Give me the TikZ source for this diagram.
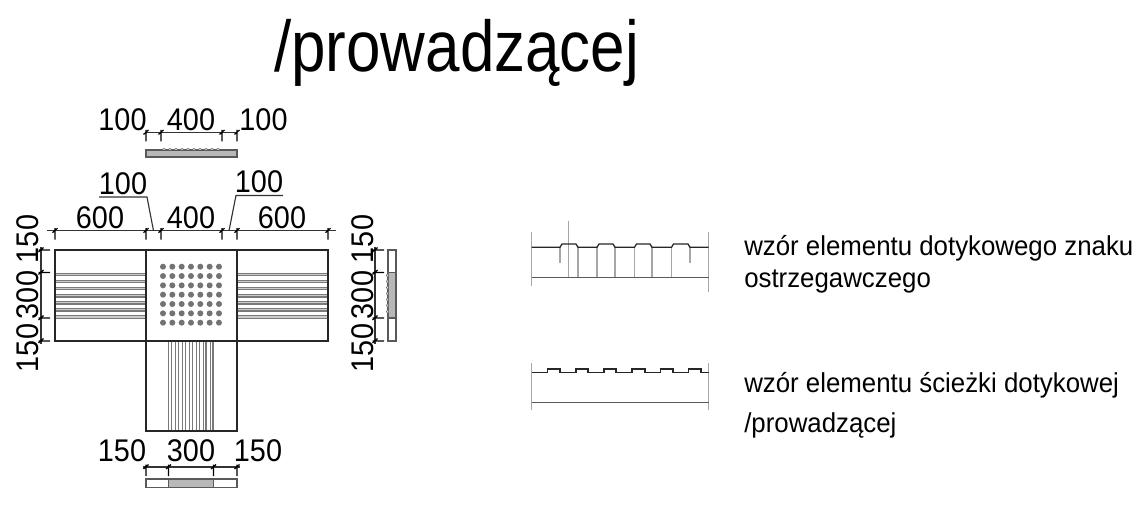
\documentclass[tikz,border=0pt]{standalone}
\usepackage{fontspec}
\setmainfont{Liberation Sans}
\newfontfamily\dimf[FakeStretch=0.92]{Liberation Sans}
\newfontfamily\capf[FakeStretch=0.945]{Liberation Sans}
\newfontfamily\titlef[FakeStretch=0.86]{Liberation Sans}
\newcommand{\fs}[1]{\fontsize{#1}{#1}\selectfont}
\definecolor{fillgray}{gray}{0.72}
\definecolor{dotgray}{gray}{0.45}
\definecolor{stripegray}{gray}{0.8}
\definecolor{stripedark}{gray}{0.48}
\definecolor{thingray}{gray}{0.65}
\definecolor{edgegray}{gray}{0.35}
\tikzset{x=0.75pt,y=-0.75pt,
 outlinepath/.style={draw=black!85,line width=0.95pt},
 edgepath/.style={draw=edgegray,line width=0.8pt},
 dimpath/.style={draw=black!80,line width=0.85pt},
 tickpath/.style={draw=black,line width=0.9pt},
 thinpath/.style={draw=thingray,line width=1pt},
 stripepath/.style={draw=stripegray,line width=2pt},
 stripecore/.style={draw=stripedark,line width=0.85pt},
 dimtext/.style={inner sep=0pt,anchor=base,font=\dimf\fs{23.5}},
 dimtextv/.style={inner sep=0pt,anchor=base,font=\dimf\fs{23.5},rotate=90},
 caption/.style={inner sep=0pt,anchor=base west,font=\capf\fs{20.5}}}
\newcommand{\tickh}[2]{\draw[tickpath] (#1,#2-2.5)--(#1,#2+9) (#1-2.5,#2+2)--(#1+2.5,#2-2.5);}
\newcommand{\tickv}[2]{\draw[tickpath] (#1-2.5,#2)--(#1+9,#2) (#1-2.5,#2+2)--(#1+2.5,#2-2.5);}
\begin{document}
\begin{tikzpicture}
\useasboundingbox (0,0) rectangle (1146,509);
\node[inner sep=0pt,anchor=base west,font=\titlef\fs{54}] (title) at (274,72) {/prowadzącej};
% top elevation
\fill[fillgray] (146,150) rectangle (237,157);
\draw[edgepath] (146,150) rectangle (237,157);
\foreach \x in {161,167,...,215}{\draw[draw=edgegray,line width=0.6pt,fill=white] (\x,150) .. controls (\x+2,148.2) and (\x+4,148.2) .. (\x+6,150);}
\draw[dimpath] (146,132.5)--(237,132.5);
\foreach \x in {146,161,222,237}{\tickh{\x}{132.5}}
\node[dimtext] (ta) at (122.5,131) {100};
\node[dimtext] (tb) at (191,131) {400};
\node[dimtext] (tc) at (263.5,131) {100};
% plan stripes
\foreach \k in {0,...,6}{
 \pgfmathsetmacro{\yy}{274.5+\k*7.05}
 \pgfmathsetmacro{\ya}{\yy-1.3}
 \pgfmathsetmacro{\yb}{\yy+1.3}
 \draw[stripepath] (55,\yy)--(146,\yy) (237,\yy)--(328,\yy);
 \draw[stripecore] (55,\ya)--(146,\ya) (237,\ya)--(328,\ya) (55,\yb)--(146,\yb) (237,\yb)--(328,\yb);
 \pgfmathsetmacro{\xx}{170+\k*6.95}
 \pgfmathsetmacro{\xa}{\xx-1.3}
 \pgfmathsetmacro{\xb}{\xx+1.3}
 \draw[stripecore] (\xa,341)--(\xa,431) (\xb,341)--(\xb,431);
}
\draw[outlinepath] (55,250) rectangle (328,341);
\draw[outlinepath] (146,250)--(146,431)--(237,431)--(237,250);
\foreach \i in {0,...,6}{\foreach \j in {0,...,6}{\fill[dotgray] (163+\i*9.33,266.7+\j*9.33) circle[radius=3];}}
% top dims
\draw[dimpath] (47,230.7)--(336,230.7);
\foreach \x in {55,146,161,222,237,328}{\tickh{\x}{230.7}}
\node[dimtext] (d1) at (100,228.5) {600};
\node[dimtext] (d2) at (191,228.5) {400};
\node[dimtext] (d3) at (282,228.5) {600};
\node[dimtext] (d4) at (123,195) {100};
\node[dimtext] (d5) at (259,193) {100};
\draw[dimpath] (99,197)--(147,197)--(153.5,230.7);
\draw[dimpath] (229,230.7)--(236,195.5)--(283,195.5);
% left dims
\draw[dimpath] (41,247)--(41,344);
\foreach \y in {250,272.5,318,341}{\tickv{41}{\y}}
\node[dimtextv] (l1) at (38.5,239) {150};
\node[dimtextv] (l2) at (38.5,295) {300};
\node[dimtextv] (l3) at (38.5,348) {150};
% right elevation
\fill[fillgray] (388,272.5) rectangle (396,318);
\draw[edgepath] (388,250) rectangle (396,341);
\draw[edgepath] (388,272.5)--(396,272.5) (388,318)--(396,318);
\foreach \y in {272.5,278.5,...,312.5}{\draw[draw=edgegray,line width=0.6pt,fill=white] (388,\y) .. controls (386.2,\y+2) and (386.2,\y+4) .. (388,\y+6);}
\draw[dimpath] (375,247)--(375,344);
\foreach \y in {250,272.5,318,341}{\tickv{375}{\y}}
\node[dimtextv] (r1) at (373,239) {150};
\node[dimtextv] (r2) at (373,295) {300};
\node[dimtextv] (r3) at (373,348) {150};
% bottom elevation
\fill[fillgray] (168.5,479) rectangle (213.5,487.5);
\draw[edgepath] (146,479) rectangle (237,487.5);
\draw[edgepath] (168.5,479)--(168.5,487.5) (213.5,479)--(213.5,487.5);
\foreach \x in {171,178,...,208}{\draw[draw=edgegray,line width=0.9pt] (\x,478.2)--(\x+3.5,478.2);}
\draw[dimpath] (143,467)--(240,467);
\foreach \x in {146,168.5,213.5,237}{\tickh{\x}{467}}
\node[dimtext] (b1) at (122,461.5) {150};
\node[dimtext] (b2) at (191,461) {300};
\node[dimtext] (b3) at (258,461) {150};
% detail 1
\draw[thinpath] (531.5,232)--(531.5,286) (708.5,232)--(708.5,292) (568.5,221)--(568.5,278);
\foreach \x in {578,597,615,634.5,652,671.5}{\draw[thinpath] (\x,247.3)--(\x,277.7);}
\draw[thinpath] (560,247.3)--(560,263) (690,247.3)--(690,263);
\draw[outlinepath] (531.5,247.3)--(560,247.3)--(562,244)--(576,244)--(578,247.3)--(597,247.3)--(599,244)--(613,244)--(615,247.3)--(634.5,247.3)--(636.5,244)--(650,244)--(652,247.3)--(671.5,247.3)--(673.5,244)--(688,244)--(690,247.3)--(708.5,247.3);
\draw[edgepath] (531.5,277.7)--(708.5,277.7);
\node[caption] (c1) at (744,255.5) {wzór elementu dotykowego znaku};
\node[caption] (c2) at (744,288) {ostrzegawczego};
% detail 2
\draw[thinpath] (531.5,363)--(531.5,410) (708.5,363)--(708.5,410);
\draw[outlinepath] (531.5,372.5)--(547.7,372.5)--(547.7,369)--(560,369)--(560,372.5)--(576,372.5)--(576,369)--(588,369)--(588,372.5)--(604,372.5)--(604,369)--(616,369)--(616,372.5)--(632,372.5)--(632,369)--(645,369)--(645,372.5)--(660.5,372.5)--(660.5,369)--(673,369)--(673,372.5)--(688.5,372.5)--(688.5,369)--(701,369)--(701,372.5)--(708.5,372.5);
\draw[edgepath] (531.5,402.5)--(708.5,402.5);
\node[caption] (c3) at (744,393) {wzór elementu ścieżki dotykowej};
\node[caption] (c4) at (744,432) {/prowadzącej};
\end{tikzpicture}
\end{document}
